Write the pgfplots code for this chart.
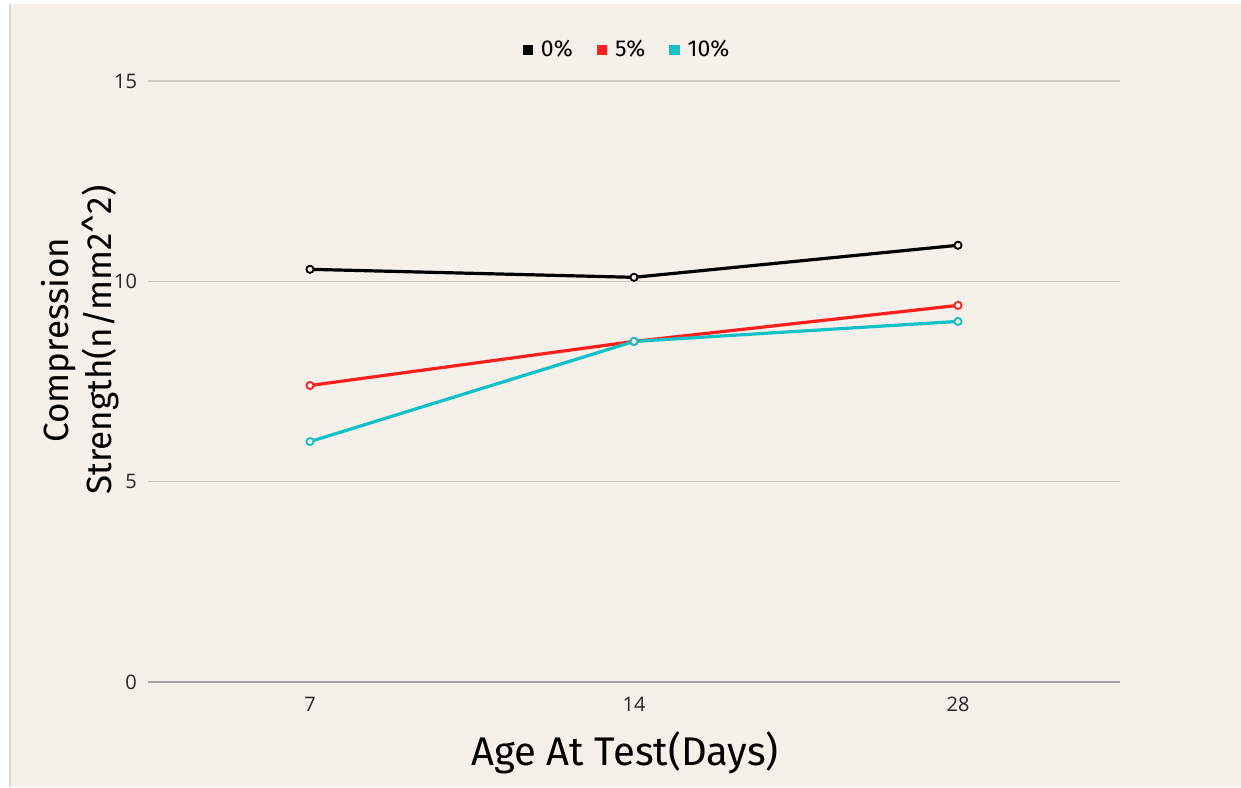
\documentclass[border=0pt]{standalone}
\usepackage{pgfplots}
\pgfplotsset{compat=1.18}
\usepackage{fontspec}
\setmainfont{Fira Sans}
\newfontfamily\tickfont{Open Sans}
\definecolor{bgc}{HTML}{F5F1EA}
\definecolor{gridc}{HTML}{CFCAC3}
\definecolor{redc}{HTML}{FF1F1F}
\definecolor{cyanc}{HTML}{12C0C8}
\begin{document}
\begin{tikzpicture}
\fill[white] (0,0) rectangle (620.5pt,393.5pt);
\fill[bgc] (5pt,0) rectangle (620.5pt,391.5pt);
\fill[gray!30] (4.5pt,0) rectangle (5.5pt,391.5pt);
\begin{axis}[
  at={(74pt,52.5pt)}, anchor=south west,
  scale only axis, width=486pt, height=300.5pt,
  xmin=-0.5, xmax=2.5, ymin=0, ymax=15,
  xtick={0,1,2}, xticklabels={7,14,28},
  ytick={0,5,10,15},
  axis line style={draw=none},
  major tick length=0pt,
  ymajorgrids, grid style={gridc, line width=0.6pt},
  extra y ticks={0}, extra y tick labels={},
  extra y tick style={grid style={gray!70, line width=0.7pt}},
  tick label style={font=\tickfont\fontsize{10}{12}\selectfont, text=black!85},
  /pgf/number format/assume math mode=true,
  yticklabel style={xshift=-2pt},
  xticklabel style={yshift=-4pt},
  xlabel={Age At Test(Days)},
  xlabel style={font=\fontsize{20}{24}\selectfont, yshift=-3pt, xshift=-4.5pt},
  ylabel={\shortstack{Compression\\Strength(n/mm2\textasciicircum2)}},
  ylabel style={font=\fontsize{17.5}{21}\selectfont, at={(ticklabel cs:0.569)}, yshift=-9.5pt},
  legend style={at={(0.5,1)}, anchor=center, yshift=15.5pt, xshift=-3pt, draw=none, fill=none,
    legend columns=3, font=\fontsize{11.5}{14}\selectfont,
    /tikz/every odd column/.append style={column sep=2pt},
    /tikz/every even column/.append style={column sep=10pt}},
  legend image code/.code={\fill[#1] (0pt,-1.8pt) rectangle (3.6pt,1.8pt);},
  every axis plot/.append style={line width=1.6pt, mark=*, mark size=1.8pt},
]
\addplot[black, mark options={draw=black, fill=bgc, line width=0.9pt}] coordinates {(0,10.3) (1,10.1) (2,10.9)};
\addplot[redc, mark options={draw=redc, fill=bgc, line width=0.9pt}] coordinates {(0,7.4) (1,8.5) (2,9.4)};
\addplot[cyanc, mark options={draw=cyanc, fill=bgc, line width=0.9pt}] coordinates {(0,6.0) (1,8.5) (2,9.0)};
\legend{0\%,5\%,10\%}
\end{axis}
\end{tikzpicture}
\end{document}
